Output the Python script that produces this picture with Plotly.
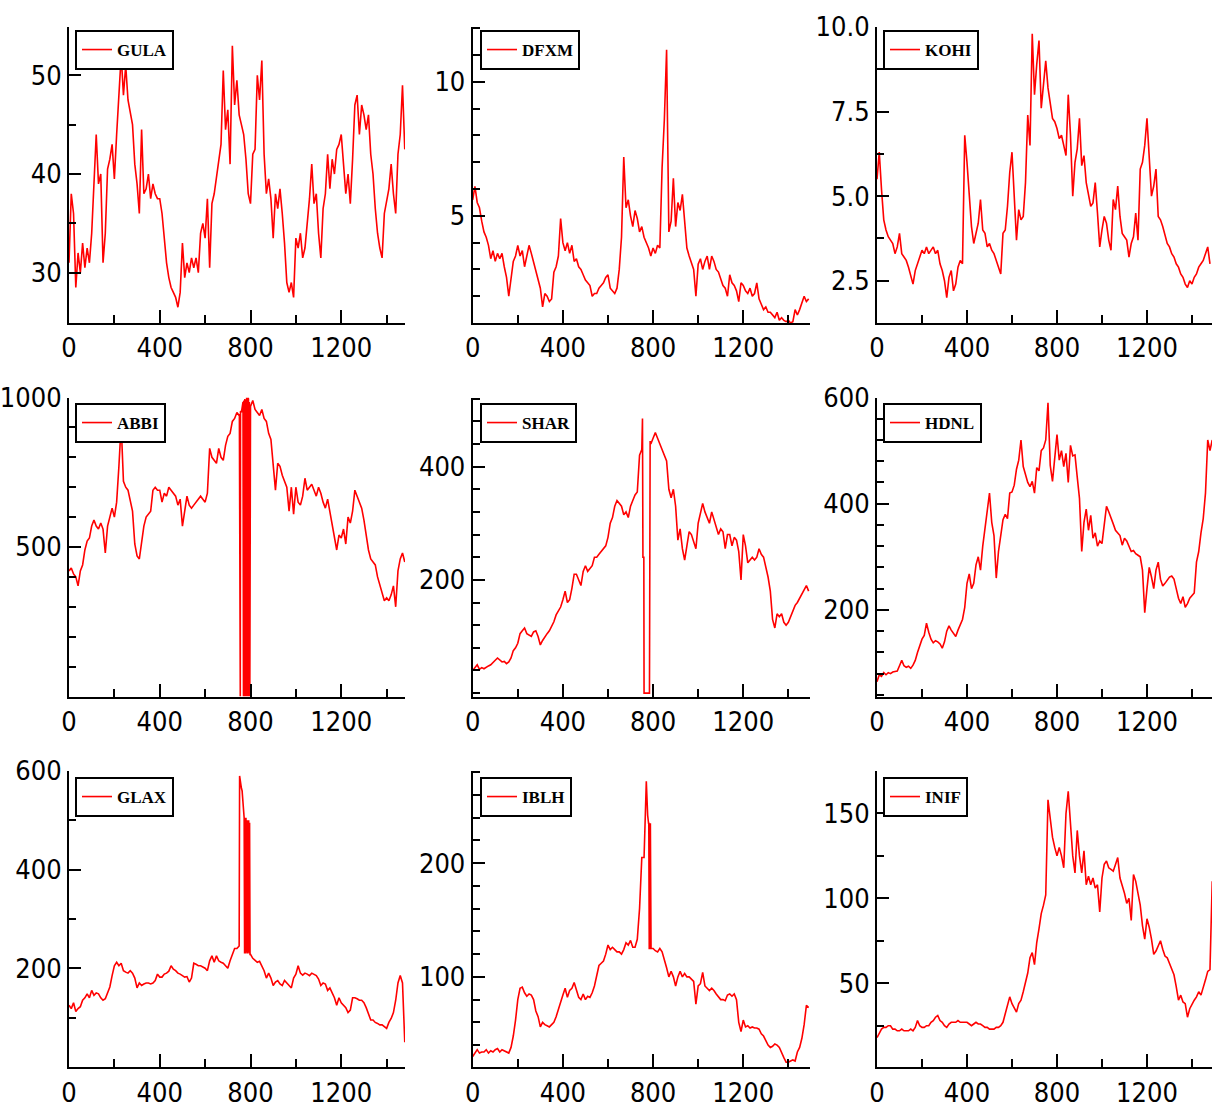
import plotly.graph_objects as go

X_STEP = 10

GULA = [31, 38, 36, 28.5, 32, 30, 33, 30.5, 32.5, 31, 34, 39, 44, 39, 40, 31, 34, 40.5, 41.5, 43,
        39.5, 44, 48, 52, 48, 51, 47.5, 46, 45, 41, 39, 36, 44.5, 38, 38.5, 40, 37.5, 39, 38, 37.5,
        37.5, 36, 33.5, 31, 29.5, 28.5, 28, 27.5, 26.5, 28, 33, 29.5, 31, 30, 31.5, 30.5, 31.5, 30, 34, 35,
        33.5, 37.5, 30.5, 37, 38, 39.5, 41.5, 43, 50.5, 44.5, 46.5, 41, 53, 47, 49.5, 46, 45, 44, 41.5, 38,
        37, 42, 42.5, 50, 47.5, 51.5, 42, 38, 39.5, 37.5, 33.5, 38, 36.5, 38.5, 36, 33, 29, 28, 29, 27.5,
        33.5, 32.5, 34, 31.5, 32.5, 35, 37.5, 41, 37, 38, 34, 31.5, 36.5, 38, 42, 38.5, 41.5, 40, 42.5, 43,
        44, 41, 38, 40, 37, 41.5, 47, 48, 44, 47, 46, 44.5, 46, 42, 40, 36.5, 34, 32.5, 31.5, 36,
        37.5, 38.5, 41, 38, 36, 42, 44, 49, 42.5]

DFXM = [5.6, 6.1, 5.5, 5.3, 4.8, 4.4, 4.2, 3.9, 3.4, 3.7, 3.3, 3.6, 3.4, 3.6, 3.1, 2.7, 2.0, 2.6, 3.3, 3.5,
        3.9, 3.5, 3.7, 3.1, 3.5, 3.9, 3.6, 3.3, 3.0, 2.7, 2.3, 1.6, 2.1, 2.0, 1.8, 1.9, 2.9, 3.1, 3.5, 4.9,
        4.0, 3.7, 4.0, 3.6, 3.9, 3.3, 3.4, 3.1, 3.0, 2.8, 2.6, 2.5, 2.4, 2.0, 2.1, 2.1, 2.3, 2.4, 2.5, 2.7,
        2.8, 2.3, 2.2, 2.1, 2.3, 3.0, 4.2, 7.2, 5.3, 5.6, 5.0, 4.6, 5.2, 4.9, 4.4, 4.6, 4.2, 4.0, 3.8, 3.5,
        3.8, 3.6, 3.9, 3.8, 6.8, 8.6, 11.2, 4.4, 4.8, 6.4, 4.6, 5.5, 5.2, 5.8, 4.6, 3.8, 3.5, 3.2, 3.0, 2.0,
        3.2, 3.4, 3.0, 3.3, 3.5, 3.0, 3.5, 3.3, 3.0, 2.9, 2.6, 2.4, 2.3, 2.0, 2.8, 2.5, 2.4, 2.2, 1.8, 2.5,
        2.4, 2.2, 2.1, 2.3, 2.0, 2.1, 2.5, 1.9, 1.7, 1.5, 1.6, 1.4, 1.4, 1.3, 1.2, 1.4, 1.1, 1.2, 1.1, 1.05,
        1.1, 1.0, 1.05, 1.5, 1.3, 1.5, 1.8, 2.0, 1.8, 1.9]

KOHI = [5.5, 6.3, 5.2, 4.3, 4.0, 3.8, 3.7, 3.6, 3.3, 3.5, 3.9, 3.3, 3.2, 3.1, 2.9, 2.6, 2.4, 2.8, 3.0, 3.2,
        3.4, 3.3, 3.5, 3.3, 3.4, 3.5, 3.3, 3.4, 3.0, 2.8, 2.5, 2.0, 2.6, 2.8, 2.2, 2.4, 2.9, 3.1, 3.0, 6.8,
        6.0, 5.1, 4.1, 3.6, 3.9, 4.2, 4.9, 4.0, 3.9, 3.5, 3.6, 3.4, 3.3, 3.1, 2.9, 2.7, 3.9, 4.0, 4.7, 5.7,
        6.3, 4.8, 3.7, 4.6, 4.3, 4.4, 5.4, 7.4, 6.5, 9.8, 8.0, 8.9, 9.6, 7.6, 8.2, 9.0, 8.2, 7.7, 7.3, 7.2,
        7.0, 6.7, 6.8, 6.5, 6.2, 8.0, 6.8, 5.0, 6.0, 6.4, 7.3, 5.9, 6.2, 5.4, 5.0, 4.7, 4.8, 5.4, 4.5, 3.5,
        4.0, 4.4, 4.2, 3.7, 3.4, 4.9, 4.6, 5.3, 4.4, 3.9, 3.8, 3.7, 3.2, 3.6, 3.8, 4.5, 3.7, 5.8, 6.0, 6.5,
        7.3, 6.3, 5.0, 5.3, 5.8, 4.4, 4.3, 4.1, 3.8, 3.6, 3.5, 3.3, 3.2, 3.0, 2.9, 2.7, 2.6, 2.4, 2.3, 2.5,
        2.4, 2.6, 2.7, 2.9, 3.0, 3.1, 3.3, 3.5, 3.0]

ABBI = [420, 430, 410, 400, 370, 420, 440, 490, 520, 530, 570, 590, 570, 560, 580, 560, 480, 570, 600, 630,
        600, 650, 770, 910, 720, 700, 690, 660, 620, 510, 470, 460, 520, 570, 600, 610, 620, 690, 700, 690,
        690, 650, 680, 670, 700, 690, 680, 670, 640, 660, 570, 630, 670, 640, 630, 640, 650, 660, 670, 660,
        650, 680, 830, 800, 790, 780, 830, 800, 790, 840, 870, 880, 920, 930, 950, 940, 950, 980, 990, 1000,
        970, 990, 960, 950, 940, 960, 930, 920, 880, 860, 760, 690, 780, 770, 740, 720, 700, 620, 700, 610,
        700, 650, 640, 670, 730, 690, 700, 710, 690, 670, 700, 680, 650, 630, 660, 620, 570, 530, 490, 540,
        530, 560, 510, 600, 580, 620, 690, 670, 650, 630, 590, 540, 490, 460, 450, 440, 400, 370, 350, 320,
        330, 320, 340, 370, 300, 420, 460, 480, 450]
ABBI_EXTRA_X = [751, 752, 755, 756, 767, 769, 771, 773, 775, 777, 779, 781, 783, 785, 787, 789, 791, 793, 795, 797]
ABBI_EXTRA_Y = [945, 0, 0, 955, 985, 0, 990, 0, 995, 0, 990, 0, 1000, 0, 990, 0, 995, 0, 985, 0]

SHAR = [40, 45, 50, 42, 45, 43, 46, 48, 50, 55, 58, 62, 58, 55, 56, 52, 55, 62, 75, 80,
        88, 105, 110, 115, 105, 102, 100, 108, 110, 100, 85, 93, 100, 105, 110, 118, 126, 138, 145, 152,
        165, 180, 160, 165, 185, 210, 210, 200, 190, 215, 225, 215, 220, 225, 240, 240, 245, 250, 255, 260,
        275, 300, 310, 330, 340, 335, 330, 315, 320, 310, 330, 340, 350, 355, 420, 430, 0, 0, 0, 440,
        450, 460, 450, 440, 430, 420, 410, 360, 345, 360, 330, 270, 290, 255, 235, 260, 285, 280, 265, 255,
        300, 320, 335, 320, 310, 300, 320, 305, 295, 280, 290, 285, 255, 280, 280, 260, 275, 270, 250, 200,
        280, 260, 230, 235, 240, 235, 240, 255, 245, 240, 225, 205, 180, 130, 115, 140, 135, 140, 125, 120,
        125, 135, 145, 155, 160, 168, 175, 185, 190, 180]
SHAR_EXTRA_X = [753, 755, 759, 762, 784, 787]
SHAR_EXTRA_Y = [485, 240, 240, 0, 0, 445]

HDNL = [65, 78, 75, 82, 78, 82, 80, 83, 84, 85, 95, 105, 95, 92, 94, 90, 96, 105, 120, 132,
        145, 152, 175, 158, 145, 138, 142, 140, 136, 128, 140, 160, 170, 162, 155, 150, 162, 172, 182, 205,
        250, 268, 240, 250, 285, 300, 275, 320, 350, 390, 420, 365, 340, 260, 310, 340, 370, 380, 372, 420,
        422, 435, 465, 482, 520, 470, 452, 440, 432, 442, 420, 468, 462, 500, 505, 520, 590, 472, 442, 490,
        530, 482, 500, 470, 495, 440, 510, 490, 492, 450, 410, 310, 365, 390, 350, 378, 335, 345, 320, 330,
        325, 360, 395, 385, 375, 362, 350, 345, 340, 322, 335, 330, 318, 310, 312, 306, 303, 300, 275, 195,
        240, 280, 262, 240, 275, 290, 258, 245, 250, 255, 262, 264, 258, 240, 222, 212, 225, 205, 212, 222,
        228, 232, 290, 310, 345, 372, 420, 520, 500, 520]

GLAX = [125, 118, 130, 112, 118, 122, 135, 140, 148, 140, 155, 145, 150, 148, 140, 135, 138, 150, 162, 185,
        205, 212, 205, 210, 195, 192, 190, 195, 190, 180, 160, 170, 165, 168, 170, 170, 168, 170, 175, 188,
        182, 182, 188, 190, 194, 205, 198, 195, 190, 188, 185, 182, 183, 172, 180, 210, 208, 205, 205, 202,
        200, 195, 215, 225, 212, 225, 215, 212, 210, 205, 200, 215, 228, 240, 240, 245, 565, 520, 500, 230,
        228, 220, 215, 212, 214, 205, 195, 180, 190, 180, 165, 172, 175, 168, 165, 175, 170, 165, 160, 180,
        188, 205, 190, 186, 190, 188, 185, 190, 188, 185, 178, 165, 170, 168, 155, 160, 150, 140, 125, 140,
        130, 125, 120, 110, 115, 140, 140, 138, 135, 135, 130, 120, 105, 95, 95, 90, 88, 85, 85, 82,
        78, 90, 98, 110, 135, 170, 185, 170, 50]
GLAX_EXTRA_X = [748, 752, 755, 758, 763, 766, 772, 774, 776, 778, 780, 782, 784, 786, 788, 790, 792, 794, 796, 798]
GLAX_EXTRA_Y = [245, 590, 580, 565, 560, 545, 505, 230, 505, 230, 505, 232, 500, 230, 500, 232, 500, 230, 495, 228]

IBLH = [30, 33, 36, 33, 34, 34, 36, 33, 35, 34, 36, 37, 34, 36, 35, 34, 33, 38, 48, 62,
        80, 90, 91, 86, 83, 85, 84, 80, 70, 65, 56, 60, 58, 57, 56, 58, 60, 65, 72, 78,
        84, 90, 82, 88, 90, 95, 88, 82, 80, 85, 80, 83, 82, 86, 92, 100, 110, 112, 114, 120,
        128, 124, 126, 124, 122, 122, 120, 124, 130, 128, 132, 126, 126, 133, 160, 205, 205, 272, 235, 125,
        125, 123, 122, 125, 122, 116, 108, 100, 105, 100, 92, 100, 105, 100, 103, 100, 100, 98, 96, 76,
        92, 94, 104, 92, 90, 88, 90, 88, 85, 82, 80, 80, 79, 84, 85, 83, 85, 80, 60, 52,
        62, 56, 57, 55, 56, 55, 55, 54, 50, 48, 44, 40, 38, 39, 41, 40, 38, 33, 29, 25,
        25, 26, 27, 26, 34, 38, 46, 58, 75, 73]
IBLH_EXTRA_X = [772, 776, 781, 783, 786, 788, 791]
IBLH_EXTRA_Y = [260, 242, 235, 125, 125, 235, 125]

INIF = [18, 21, 23, 24, 24, 25, 25, 23, 23, 22, 22, 23, 22, 22, 22, 23, 22, 24, 28, 25,
        24, 24, 25, 25, 27, 28, 30, 31, 28, 27, 25, 24, 26, 27, 27, 27, 28, 27, 27, 27,
        27, 26, 25, 26, 27, 26, 26, 25, 24, 24, 23, 23, 23, 24, 24, 25, 27, 32, 38, 42,
        38, 35, 33, 38, 40, 45, 50, 56, 65, 68, 61, 74, 82, 91, 96, 102, 158, 146, 136, 130,
        125, 130, 125, 118, 150, 163, 146, 125, 115, 140, 125, 115, 128, 108, 113, 108, 112, 106, 108, 92,
        112, 120, 122, 118, 117, 116, 120, 124, 112, 108, 103, 97, 100, 87, 114, 110, 102, 96, 84, 76,
        88, 83, 76, 67, 69, 72, 75, 70, 66, 65, 62, 58, 55, 48, 40, 43, 39, 38, 30, 35,
        38, 40, 42, 45, 43, 47, 52, 57, 58, 110]

NAMES = ["GULA", "DFXM", "KOHI", "ABBI", "SHAR", "HDNL", "GLAX", "IBLH", "INIF"]
SERIES = [GULA, DFXM, KOHI, ABBI, SHAR, HDNL, GLAX, IBLH, INIF]
EXTRAS = [None, None, None, (ABBI_EXTRA_X, ABBI_EXTRA_Y), (SHAR_EXTRA_X, SHAR_EXTRA_Y), None,
          (GLAX_EXTRA_X, GLAX_EXTRA_Y), (IBLH_EXTRA_X, IBLH_EXTRA_Y), None]

Y_RANGES = [[24.9, 54.9], [1.0, 12.05], [1.25, 10.0],
            [0, 1000], [-6, 522], [37, 600],
            [-1, 600], [20.5, 281], [0.5, 175]]
Y_TICKS = [[30, 40, 50], [5, 10], [2.5, 5.0, 7.5, 10.0],
           [500, 1000], [200, 400], [200, 400, 600],
           [200, 400, 600], [100, 200], [50, 100, 150]]
Y_MINOR = [5, 1, 1.25, 100, 40, 40, 100, 20, 25]
Y_FORMAT = ["", "", ".1f", "", "", "", "", "", ""]
X_TICKS = [0, 400, 800, 1200]

W, H = 1212, 1110
COL_X = [(69, 405), (472.7, 810), (877, 1212)]
COL_RANGE = [1481, 1496, 1489]
ROW_Y = [(27, 323), (397.5, 696.5), (771, 1067.3)]
LEG_X = [75, 480, 883]
LEG_Y = [30, 403, 777]

TICK_FONT = dict(family="Liberation Sans Narrow, DejaVu Sans Condensed, Liberation Sans, sans-serif",
                 size=27, color="black")
LEG_FONT = dict(family="Liberation Serif, serif", size=17, color="black", weight="bold")

fig = go.Figure()
layout = dict(width=W, height=H, margin=dict(l=0, r=0, t=0, b=0, autoexpand=False),
              paper_bgcolor="white", plot_bgcolor="white", showlegend=True)

for i, (name, vals) in enumerate(zip(NAMES, SERIES)):
    r, c = divmod(i, 3)
    pts = {k * X_STEP: v for k, v in enumerate(vals)}
    if EXTRAS[i] is not None:
        for xx, yy in zip(*EXTRAS[i]):
            pts[xx] = yy
    xs = sorted(pts)
    ys = [pts[k] for k in xs]
    n = "" if i == 0 else str(i + 1)
    leg = "legend" if i == 0 else "legend%d" % (i + 1)
    fig.add_trace(go.Scatter(x=xs, y=ys, mode="lines", name=name,
                             line=dict(color="#ff0000", width=1.6),
                             xaxis="x" + n, yaxis="y" + n, legend=leg, showlegend=True))
    x0, x1 = COL_X[c]
    yt, yb = ROW_Y[r]
    layout["xaxis" + n] = dict(domain=[x0 / W, x1 / W], range=[0, COL_RANGE[c]], anchor="y" + n,
                               showgrid=False, zeroline=False, showline=True, linecolor="black",
                               linewidth=2, ticks="inside", ticklen=13, tickwidth=2, tickcolor="black",
                               tickmode="array", tickvals=X_TICKS, tickfont=TICK_FONT,
                               minor=dict(tickmode="linear", tick0=0, dtick=200, ticks="inside",
                                          ticklen=8, tickwidth=2, tickcolor="black", showgrid=False))
    yaxis = dict(domain=[1 - yb / H, 1 - yt / H], range=Y_RANGES[i], anchor="x" + n,
                 showgrid=False, zeroline=False, showline=True, linecolor="black",
                 linewidth=2, ticks="inside", ticklen=12, tickwidth=2, tickcolor="black",
                 tickmode="array", tickvals=Y_TICKS[i], tickfont=TICK_FONT,
                 minor=dict(tickmode="linear", tick0=0, dtick=Y_MINOR[i], ticks="inside",
                            ticklen=7, tickwidth=2, tickcolor="black", showgrid=False))
    if Y_FORMAT[i]:
        yaxis["tickformat"] = Y_FORMAT[i]
    layout["yaxis" + n] = yaxis
    layout[leg] = dict(x=LEG_X[c] / W, y=1 - LEG_Y[r] / H, xanchor="left", yanchor="top",
                       bgcolor="white", bordercolor="black", borderwidth=2, font=LEG_FONT,
                       itemwidth=30, tracegroupgap=0)

fig.update_layout(**layout)
fig.write_html("out.html", config={"displayModeBar": False},
               post_script="document.body.style.margin='0px';document.body.style.overflow='hidden';")
